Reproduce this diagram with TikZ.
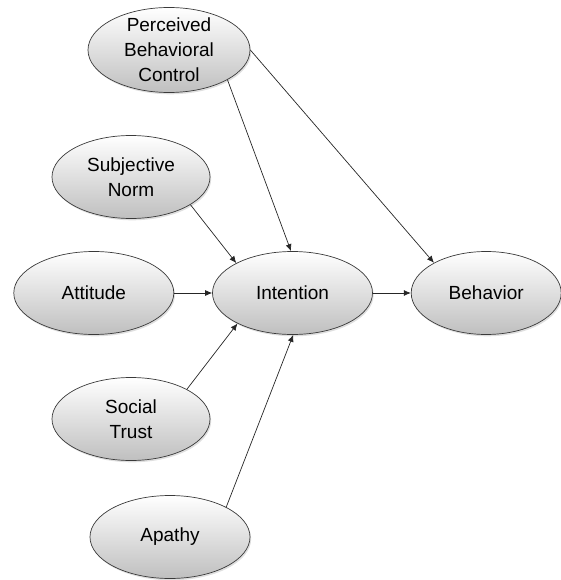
\documentclass[tikz,border=0pt]{standalone}
\usepackage{fontspec}
\setmainfont{Liberation Sans}
\usepackage{tikz}
\usetikzlibrary{arrows.meta,positioning,shapes.geometric,shadows}
\definecolor{rim}{HTML}{3A3A3A}
\definecolor{wire}{HTML}{262626}

\begin{document}
\begin{tikzpicture}[x=1pt,y=-1pt,
  node distance=38pt,
  construct/.style={ellipse,draw=rim,line width=0.7pt,top color=white,bottom color=black!25,
    minimum width=160pt,minimum height=83pt,inner xsep=0pt,inner ysep=-6pt,align=center,
    font=\fontsize{19}{25}\selectfont,
    drop shadow={shadow xshift=1.2pt,shadow yshift=-1.8pt,opacity=0.25,fill=black!50}},
  arrow/.style={-{Latex[length=7pt,width=6pt]},line width=0.7pt,draw=wire}]
\useasboundingbox (0,0) rectangle (561,580);
\node[construct] (int) at (292.5,293) {Intention};
\node[construct,left=of int] (att) {Attitude};
\node[construct,right=of int,minimum width=150pt] (beh) {Behavior};
\node[construct,minimum width=162pt,minimum height=85pt] (pbc) at (169,50) {Perceived\\Behavioral\\Control};
\node[construct,minimum width=158pt] (sn) at (131,177) {Subjective\\Norm};
\node[construct,minimum width=158pt] (st) at (131,419) {Social\\Trust};
\node[construct] (ap) at (170,537) {Apathy};
% paths into intention and behavior
\draw[arrow] (pbc.-27)--(int.92);
\draw[arrow] (pbc.east)--(beh.150);
\draw[arrow] (sn.-25)--(int.152);
\draw[arrow] (att)--(int);
\draw[arrow] (st.28)--(int.-151);
\draw[arrow] (ap.28)--(int.-89);
\draw[arrow] (int)--(beh);
\end{tikzpicture}
\end{document}
